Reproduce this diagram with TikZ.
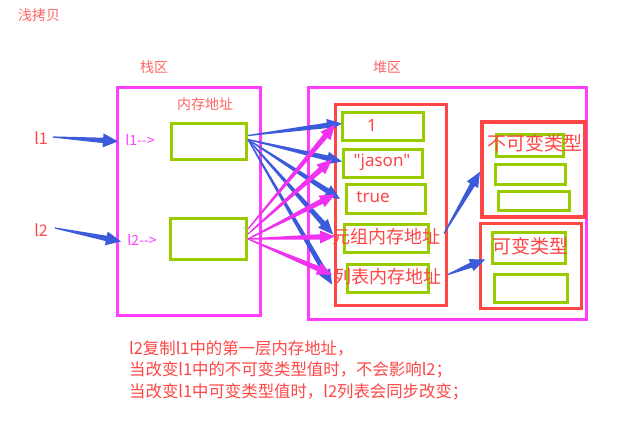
\documentclass[tikz,border=0pt]{standalone}
\usepackage{fontspec}
\setmainfont{Noto Sans CJK SC}
\newfontfamily\latinfont{Noto Sans}
\usetikzlibrary{calc}
\definecolor{tred}{RGB}{255,70,70}
\definecolor{tpink}{RGB}{255,100,100}
\definecolor{tmag}{RGB}{240,50,240}
\definecolor{tmagl}{RGB}{255,60,255}
\definecolor{tblue}{RGB}{59,91,219}
\definecolor{tgreen}{RGB}{153,204,0}
\newcommand\fs[1]{\fontsize{#1}{#1}\selectfont}
\newcommand\taper[4][6.5pt]{%
  \coordinate (tA) at #2; \coordinate (tB) at #3;
  \coordinate (tH) at ($(tB)!15pt!(tA)$);
  \fill[#4] ($(tA)!0.6pt!90:(tB)$) -- ($(tH)!2.7pt!-90:(tA)$) -- ($(tH)!#1!-90:(tA)$) -- (tB)
    -- ($(tH)!#1!90:(tA)$) -- ($(tH)!2.7pt!90:(tA)$) -- ($(tA)!0.6pt!-90:(tB)$) -- cycle;}
\begin{document}
\begin{tikzpicture}[x=1pt,y=-1pt,
  gbox/.style={draw=tgreen,line width=3pt,inner sep=0pt,anchor=north west},
  rbox/.style={draw=tred,line width=3pt,inner sep=0pt,anchor=north west},
  mbox/.style={draw=tmagl,line width=2.8pt,inner sep=0pt,anchor=north west},
  lab/.style={inner sep=0pt,text=tpink},
  val/.style={inner sep=0pt,text=tred,font=\latinfont\fs{17}},
  big/.style={inner sep=0pt,text=tred,font=\fs{18}}]
\useasboundingbox[fill=white] (0,0) rectangle (626,422);
% regions
\node[mbox,minimum width=143pt,minimum height=228pt] (stack) at (116,86) {};
\node[mbox,minimum width=278pt,minimum height=232pt] (heap) at (307,86) {};
\node[rbox,minimum width=111pt,minimum height=201pt] (cells) at (334,103) {};
\node[rbox,line width=3.6pt,minimum width=103pt,minimum height=95pt] (imm) at (480,120) {};
\node[rbox,minimum width=101pt,minimum height=85pt] (mut) at (479,222) {};
% stack boxes
\node[gbox,minimum width=75pt,minimum height=36pt] (g1) at (170,122) {};
\node[gbox,minimum width=76pt,minimum height=41pt] (g2) at (169,217) {};
% heap cells
\node[gbox,minimum width=81pt,minimum height=28pt] (h1) at (341,111) {};
\node[gbox,minimum width=79pt,minimum height=28pt] (h2) at (342,148) {};
\node[gbox,minimum width=79pt,minimum height=29pt] (h3) at (345,183) {};
\node[gbox,minimum width=84pt,minimum height=28pt] (h4) at (343,223) {};
\node[gbox,minimum width=81pt,minimum height=28pt] (h5) at (346,263) {};
\node[gbox,minimum width=67pt,minimum height=22pt] (i1) at (495,133) {};
\node[gbox,minimum width=70pt,minimum height=20pt] (i2) at (494,163) {};
\node[gbox,minimum width=71pt,minimum height=19pt] (i3) at (497,190) {};
\node[gbox,minimum width=73pt,minimum height=31pt] (m1) at (491,231) {};
\node[gbox,minimum width=73pt,minimum height=28pt] (m2) at (493,273) {};
% labels
\node[lab,font=\fs{14}] (title) at (39,15) {浅拷贝};
\node[lab,font=\fs{14}] (stackt) at (154,67) {栈区};
\node[lab,font=\fs{14}] (heapt) at (387,67) {堆区};
\node[lab,font=\fs{14}] (addr) at (205,104) {内存地址};
\node[inner sep=0pt,text=tmagl,font=\fs{14}] (p1) at (140,140) {l1-{}->};
\node[inner sep=0pt,text=tmagl,font=\fs{14}] (p2) at (142,240) {l2-{}->};
\node[inner sep=0pt,text=tred,font=\fs{16}] (v1) at (41,138) {l1};
\node[inner sep=0pt,text=tred,font=\fs{16}] (v2) at (41,230) {l2};
\node[val] (t1) at (372,125) {1};
\node[val] (t2) at (382,162) {"jason"};
\node[val] (t3) at (373,197) {true};
\node[big] (t4) at (386,237) {元组内存地址};
\node[big] (t5) at (387,277) {列表内存地址};
\node[big,font=\fs{19}] (ti) at (535,143) {不可变类型};
\node[big,font=\fs{19}] (tm) at (530,246) {可变类型};
\node[inner sep=0pt,text=tred,font=\fontsize{16.4}{21.5}\selectfont,align=left,anchor=north west] (note) at (129,340)
 {l2复制l1中的第一层内存地址，\\当改变l1中的不可变类型值时，不会影响l2；\\当改变l1中可变类型值时，l2列表会同步改变；};
% variable arrows
\taper[7pt]{($(v1.east)+(5,-1)$)}{($(stack.west)+(2,-60)$)}{tblue}
\taper[7pt]{($(v2.east)+(7,-2)$)}{($(stack.west)+(5,40)$)}{tblue}
% l1 arrows (blue)
\taper{($(g1.east)+(0,-6)$)}{($(h1.west)+(1,-3)$)}{tblue}
\taper{($(g1.east)+(0,-2)$)}{($(h2.west)+(0,-2)$)}{tblue}
\taper{($(g1.east)+(0,-2)$)}{($(h3.west)+(-5,0)$)}{tblue}
\taper{($(g1.east)+(0,-2)$)}{($(h4.west)+(-10,-4)$)}{tblue}
\taper{($(g1.east)+(0,-2)$)}{($(h5.west)+(-14,6)$)}{tblue}
% l2 arrows (magenta)
\taper{($(g2.east)+(0,-10)$)}{($(h1.west)+(-6,-2)$)}{tmag}
\taper{($(g2.east)+(0,-5)$)}{($(h2.west)+(-10,-4)$)}{tmag}
\taper{($(g2.east)+(0,0)$)}{($(h3.west)+(-10,-4.5)$)}{tmag}
\taper{($(g2.east)+(0,0)$)}{($(h4.west)+(-8,-2)$)}{tmag}
\taper{($(g2.east)+(0,0)$)}{($(h5.west)+(-14,-4)$)}{tmag}
% heap inner arrows
\taper{($(h4.east)+(14,-5)$)}{($(imm.west)+(0,2.5)$)}{tblue}
\taper{($(h5.east)+(18,-4)$)}{($(mut.west)+(6,-6.5)$)}{tblue}
\end{tikzpicture}
\end{document}
